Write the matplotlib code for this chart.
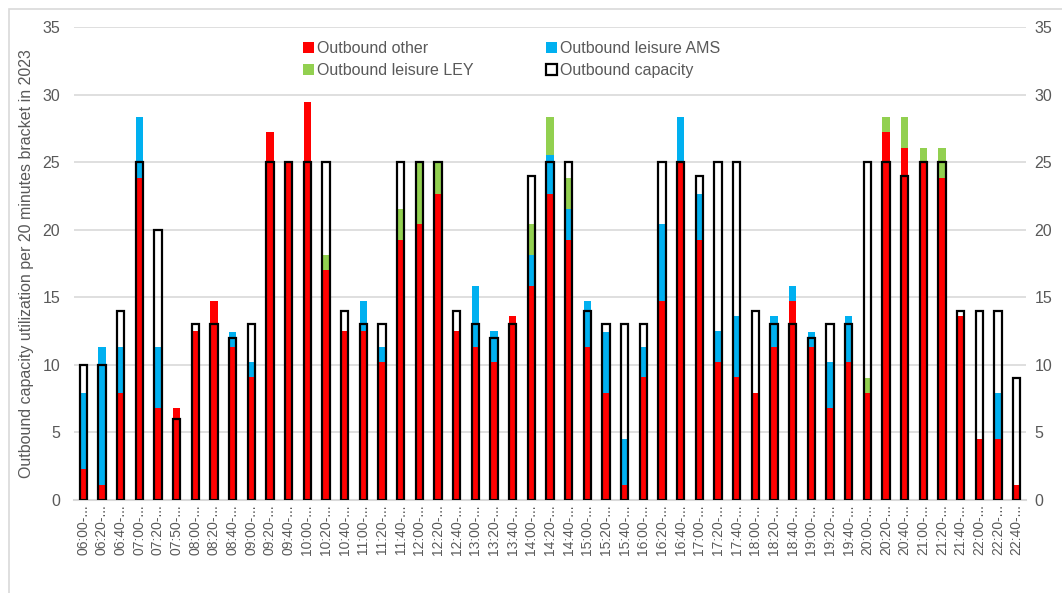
import matplotlib
matplotlib.use("Agg")
import matplotlib.pyplot as plt
import numpy as np
from matplotlib.patches import Rectangle

times = ["06:00", "06:20", "06:40", "07:00", "07:20", "07:50", "08:00", "08:20", "08:40",
         "09:00", "09:20", "09:40", "10:00", "10:20", "10:40", "11:00", "11:20", "11:40",
         "12:00", "12:20", "12:40", "13:00", "13:20", "13:40", "14:00", "14:20", "14:40",
         "15:00", "15:20", "15:40", "16:00", "16:20", "16:40", "17:00", "17:20", "17:40",
         "18:00", "18:20", "18:40", "19:00", "19:20", "19:40", "20:00", "20:20", "20:40",
         "21:00", "21:20", "21:40", "22:00", "22:20", "22:40"]
tick_labels = [t + "-..." for t in times]

outbound_other = [2.27, 1.13, 7.93, 23.8, 6.8, 6.8, 12.47, 14.73, 11.33, 9.07,
                  27.2, 25.0, 29.47, 17.0, 12.47, 12.47, 10.2, 19.27, 20.4, 22.67,
                  12.47, 11.33, 10.2, 13.6, 15.87, 22.67, 19.27, 11.33, 7.93, 1.13,
                  9.07, 14.73, 25.0, 19.27, 10.2, 9.07, 7.93, 11.33, 14.73, 11.33,
                  6.8, 10.2, 7.93, 27.2, 26.07, 25.0, 23.8, 13.6, 4.53, 4.53, 1.13]
outbound_ams = [5.67, 10.2, 3.4, 4.53, 4.53, 0, 0, 0, 1.13, 1.13,
                0, 0, 0, 0, 0, 2.27, 1.13, 0, 0, 0,
                0, 4.53, 2.27, 0, 2.27, 2.83, 2.27, 3.4, 4.53, 3.4,
                2.27, 5.67, 3.33, 3.4, 2.27, 4.53, 0, 2.27, 1.13, 1.13,
                3.4, 3.4, 0, 0, 0, 0, 0, 0, 0, 3.4, 0]
outbound_ley = [0, 0, 0, 0, 0, 0, 0, 0, 0, 0,
                0, 0, 0, 1.13, 0, 0, 0, 2.27, 4.6, 2.33,
                0, 0, 0, 0, 2.27, 2.83, 2.27, 0, 0, 0,
                0, 0, 0, 0, 0, 0, 0, 0, 0, 0,
                0, 0, 1.13, 1.13, 2.27, 1.07, 2.27, 0, 0, 0, 0]
capacity = [10, 10, 14, 25, 20, 6, 13, 13, 12, 13,
            25, 25, 25, 25, 14, 13, 13, 25, 25, 25,
            14, 13, 12, 13, 24, 25, 25, 14, 13, 13,
            13, 25, 25, 24, 25, 25, 14, 13, 13, 12,
            13, 13, 25, 25, 24, 25, 25, 14, 14, 14, 9]

plt.rcParams['font.family'] = ['Liberation Sans', 'DejaVu Sans']
txt = '#595959'
grid_c = '#D9D9D9'
fs = 11.5

fig = plt.figure(figsize=(10.62, 5.93), dpi=100)
ax = fig.add_axes([74/1062, 1-500/593, (1026-74)/1062, (500-27)/593])

x = np.arange(len(times))
w = 0.40
o = np.array(outbound_other)
a = np.array(outbound_ams)
l = np.array(outbound_ley)
ax.bar(x, o, w, color='#FF0000', zorder=2)
ax.bar(x, a, w, bottom=o, color='#00B0F0', zorder=2)
ax.bar(x, l, w, bottom=o + a, color='#92D050', zorder=2)
ax.bar(x, capacity, w, facecolor='none', edgecolor='black', linewidth=1.6, zorder=3)

ax.set_xlim(-0.5, len(times) - 0.5)
ax.set_ylim(0, 35)
ax.set_yticks(range(0, 36, 5))
ax.yaxis.grid(True, color=grid_c, linewidth=1.2, zorder=0)
ax.set_axisbelow(True)
for s in ['top', 'right', 'left']:
    ax.spines[s].set_visible(False)
ax.spines['bottom'].set_color(grid_c)
ax.spines['bottom'].set_linewidth(1.5)
ax.set_xticks(x)
ax.set_xticklabels(tick_labels, rotation=90, fontsize=10, color=txt)
ax.tick_params(axis='x', length=0, pad=3)
ax.tick_params(axis='y', length=0, labelsize=fs, labelcolor=txt, pad=10)
ax.set_ylabel('Outbound capacity utilization per 20 minutes bracket in 2023',
              fontsize=fs, color=txt, labelpad=6)

ax2 = ax.twinx()
ax2.set_ylim(0, 35)
ax2.set_yticks(range(0, 36, 5))
ax2.tick_params(axis='y', length=0, labelsize=fs, labelcolor=txt, pad=6)
for s in ax2.spines.values():
    s.set_visible(False)

handles = [Rectangle((0, 0), 1, 1, facecolor='#FF0000', edgecolor='none'),
           Rectangle((0, 0), 1, 1, facecolor='#92D050', edgecolor='none'),
           Rectangle((0, 0), 1, 1, facecolor='#00B0F0', edgecolor='none'),
           Rectangle((0, 0), 1, 1, facecolor='white', edgecolor='black', linewidth=1.6)]
labels_leg = ['Outbound other', 'Outbound leisure LEY', 'Outbound leisure AMS', 'Outbound capacity']
leg = ax.legend(handles, labels_leg, ncol=2, loc='upper left',
                bbox_to_anchor=(0.2255, 1.0), frameon=False, fontsize=fs,
                handlelength=0.7, handleheight=0.7, handletextpad=0.2,
                columnspacing=4.5, labelspacing=0.4, labelcolor=txt)

fig.patches.append(Rectangle((8.5/1062, -0.1), 1.2, 1 - 8.5/593 + 0.1,
                             transform=fig.transFigure, fill=False,
                             edgecolor=grid_c, linewidth=1.2))

fig.savefig('out.png', dpi=100, facecolor='white')
